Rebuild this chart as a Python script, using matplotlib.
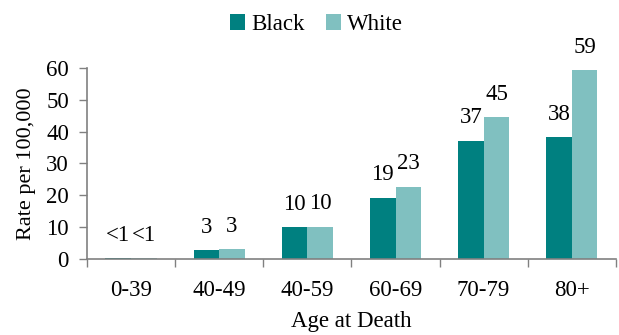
import numpy as np
import matplotlib.pyplot as plt

plt.rcParams['font.family'] = ['Liberation Serif', 'DejaVu Serif']

ages = ['0-39', '40-49', '40-59', '60-69', '70-79', '80+']
black = [0.2, 2.7, 10.0, 19.2, 37.2, 38.2]
white = [0.2, 3.1, 10.1, 22.7, 44.6, 59.3]
series = ['Black', 'White']
colors = ['#008080', '#80C0C0']


def fmt(v):
    return '<1' if v < 1 else '%d' % round(v)


fig = plt.figure(figsize=(6.19, 3.35), dpi=100)
ax = fig.add_axes([0.1405, 0.2269, 0.8545, 0.5701])

x = np.arange(len(ages))
w = 0.29
for i, (vals, name, c) in enumerate(zip([black, white], series, colors)):
    pos = x + (i - 0.5) * w
    ax.bar(pos, vals, w, color=c, label=name)
    for p, v in zip(pos, vals):
        ax.annotate(fmt(v), (p, v), xytext=(0, 9), textcoords='offset points',
                    ha='center', va='bottom', fontsize=16.5)

ax.set_xlim(-0.5, len(ages) - 0.5)
ax.set_ylim(0, 60)
ax.set_yticks(range(0, 61, 10))
ax.set_xticks(x)
ax.set_xticklabels(ages)
ax.set_xticks(np.arange(-0.5, len(ages)), minor=True)
ax.tick_params(axis='x', which='major', length=0, pad=15, labelsize=16.5)
ax.tick_params(axis='x', which='minor', length=6, color='#808080', width=1)
ax.tick_params(axis='y', length=6, color='#808080', width=1, labelsize=16.5,
               pad=7)

for s in ['top', 'right']:
    ax.spines[s].set_visible(False)
for s in ['left', 'bottom']:
    ax.spines[s].set_color('#808080')
    ax.spines[s].set_linewidth(1.2)

ax.set_ylabel('Rate per 100,000', fontsize=16, labelpad=7)
ax.set_xlabel('Age at Death', fontsize=16.5, labelpad=7)

ax.legend(loc='upper center', bbox_to_anchor=(0.434, 1.39), ncol=2, frameon=False,
          fontsize=16.5, handlelength=0.65, handleheight=0.65, handletextpad=0.3,
          columnspacing=0.9)

fig.savefig('out.png', dpi=100)
